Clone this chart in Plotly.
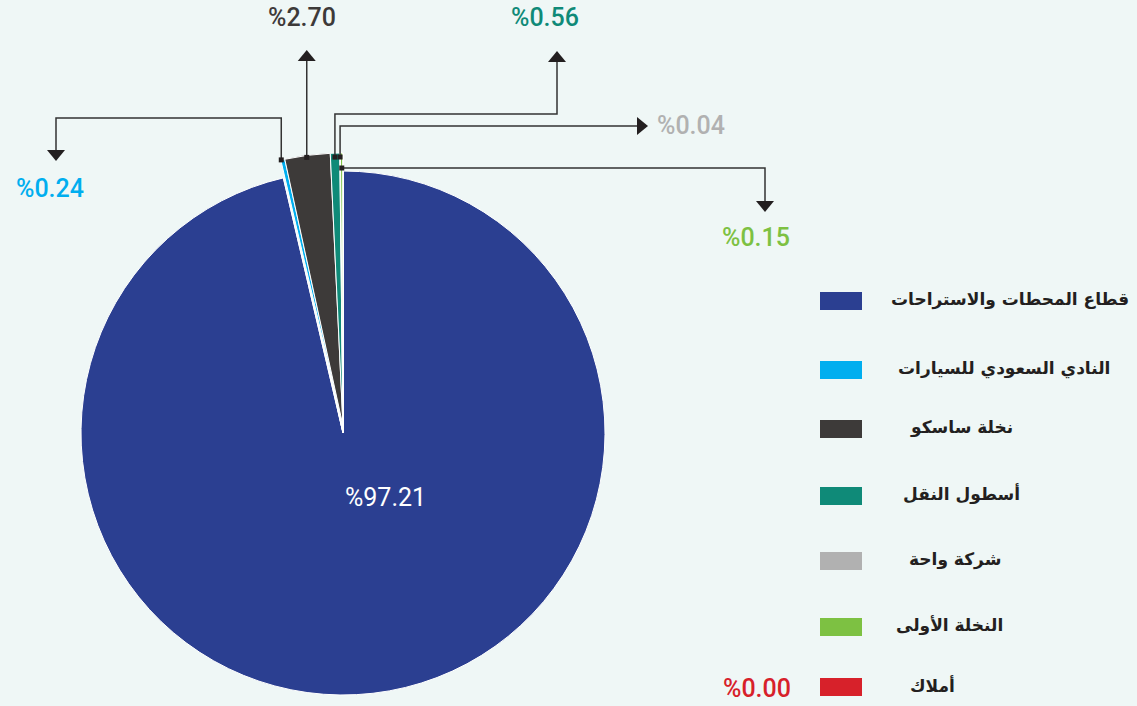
import math
import plotly.graph_objects as go

# ---- data ----
labels = ["قطاع المحطات والاستراحات", "النادي السعودي للسيارات", "نخلة ساسكو",
          "أسطول النقل", "شركة واحة", "النخلة الأولى", "أملاك"]
values = [97.21, 0.24, 2.70, 0.56, 0.04, 0.15, 0.00]
colors = ["#2b3f91", "#00aeef", "#3d3a39", "#0f8a78", "#b1b1b1", "#7dc142", "#d7212a"]

W, H = 1137, 706
BG = "#eff7f6"
INK = "#231f20"

def X(px):
    return px / W

def Y(py):
    return 1 - py / H

# pie geometry (layout)
cx, cy, R_main = 343, 433, 262
cy2, R_small = 426, 273

fig = go.Figure()

# main (blue) slice
fig.add_trace(go.Pie(
    labels=labels, values=values, sort=False, direction="clockwise", rotation=0,
    marker=dict(colors=[colors[0]] + ["rgba(0,0,0,0)"] * (len(values) - 1),
                line=dict(color="white", width=1)),
    textinfo="none", hoverinfo="label+value", showlegend=False,
    domain=dict(x=[X(cx - R_main), X(cx + R_main)], y=[Y(cy + R_main), Y(cy - R_main)]),
))
# small slices, drawn slightly larger
fig.add_trace(go.Pie(
    labels=labels, values=values, sort=False, direction="clockwise", rotation=0,
    marker=dict(colors=["rgba(0,0,0,0)"] + colors[1:],
                line=dict(color=["rgba(0,0,0,0)"] + ["white"] * (len(values) - 1), width=1)),
    textinfo="none", hoverinfo="label+value", showlegend=False,
    domain=dict(x=[X(cx - R_small), X(cx + R_small)], y=[Y(cy2 + R_small), Y(cy2 - R_small)]),
))

shapes = []
annotations = []
total = sum(values)
cum = 0.0
mids = []
for v in values:
    mids.append((cum + v / 2) / total * 2 * math.pi)
    cum += v

def dot_pos(i, r):
    a = mids[i]
    return cx + r * math.sin(a), cy - r * math.cos(a)

LINE = dict(color="#333333", width=1.5)

def polyline(pts):
    d = "M " + " L ".join(f"{X(p[0])},{Y(p[1])}" for p in pts)
    shapes.append(dict(type="path", path=d, xref="paper", yref="paper", line=LINE))

def tri(tip, direction, size=9, length=11):
    tx, ty = tip
    if direction == "down":
        pts = [(tx - size, ty - length), (tx + size, ty - length), (tx, ty)]
    elif direction == "up":
        pts = [(tx - size, ty + length), (tx + size, ty + length), (tx, ty)]
    else:  # right
        pts = [(tx - length, ty - size), (tx - length, ty + size), (tx, ty)]
    d = "M " + " L ".join(f"{X(p[0])},{Y(p[1])}" for p in pts) + " Z"
    shapes.append(dict(type="path", path=d, xref="paper", yref="paper",
                       fillcolor=INK, line=dict(width=0)))

def square(p, s=5):
    shapes.append(dict(type="rect", xref="paper", yref="paper",
                       x0=X(p[0] - s / 2), x1=X(p[0] + s / 2),
                       y0=Y(p[1] + s / 2), y1=Y(p[1] - s / 2),
                       fillcolor=INK, line=dict(width=0)))

def pct(v):
    return f"%{v:.2f}"

def label(text, x, y, color, xanchor="center", size=25, weight=500):
    annotations.append(dict(text=text, x=X(x), y=Y(y), xref="paper", yref="paper",
                            xanchor=xanchor, yanchor="middle", showarrow=False,
                            font=dict(family="Roboto", size=size, color=color, weight=weight)))

# light blue
p = dot_pos(1, 280)
polyline([p, (p[0], 118), (56, 118), (56, 152)])
tri((56, 161), "down")
square(p)
label(pct(values[1]), 50, 188, colors[1])

# dark
p = dot_pos(2, 278)
polyline([p, (p[0], 60)])
tri((p[0], 50), "up")
square(p)
label(pct(values[2]), 302, 17, colors[2])

# teal
p = dot_pos(3, 276)
polyline([p, (p[0], 114), (557, 114), (557, 60)])
tri((557, 51), "up")
square(p)
label(pct(values[3]), 545, 17, colors[3])

# gray
p = dot_pos(4, 276)
polyline([p, (p[0], 126), (640, 126)])
tri((648, 126), "right")
square(p)
label(pct(values[4]), 655, 126, colors[4], xanchor="left")

# green
p = dot_pos(5, 265)
polyline([p, (765, p[1]), (765, 203)])
tri((765, 212), "down")
square(p)
label(pct(values[5]), 756, 237, colors[5])

# main label
label(pct(values[0]), 385, 497, "white", weight=400)

# red (zero) label next to legend
label(pct(values[6]), 757, 688, colors[6])

# legend (manual)
legend_y = [301, 370, 429, 496, 561, 627, 687]
legend_text_right = [1131, 1112, 1015, 1022, 1003, 1005, 957]
for i, (lab, col) in enumerate(zip(labels, colors)):
    yy = legend_y[i]
    shapes.append(dict(type="rect", xref="paper", yref="paper",
                       x0=X(820), x1=X(862), y0=Y(yy + 9), y1=Y(yy - 9),
                       fillcolor=col, line=dict(width=0)))
    annotations.append(dict(text=f"<b>{lab}</b>", x=X(legend_text_right[i]), y=Y(yy - 2),
                            xref="paper", yref="paper", xanchor="right", yanchor="middle",
                            showarrow=False,
                            font=dict(family="DejaVu Sans", size=17, color=INK)))

fig.update_layout(
    width=W, height=H,
    margin=dict(l=0, r=0, t=0, b=0),
    paper_bgcolor=BG, plot_bgcolor=BG,
    shapes=shapes, annotations=annotations,
    showlegend=False,
)

fig.write_html("out.html", config={"displayModeBar": False},
               post_script="document.body.style.margin='0';document.body.style.padding='0';document.body.style.background='%s';" % BG)
